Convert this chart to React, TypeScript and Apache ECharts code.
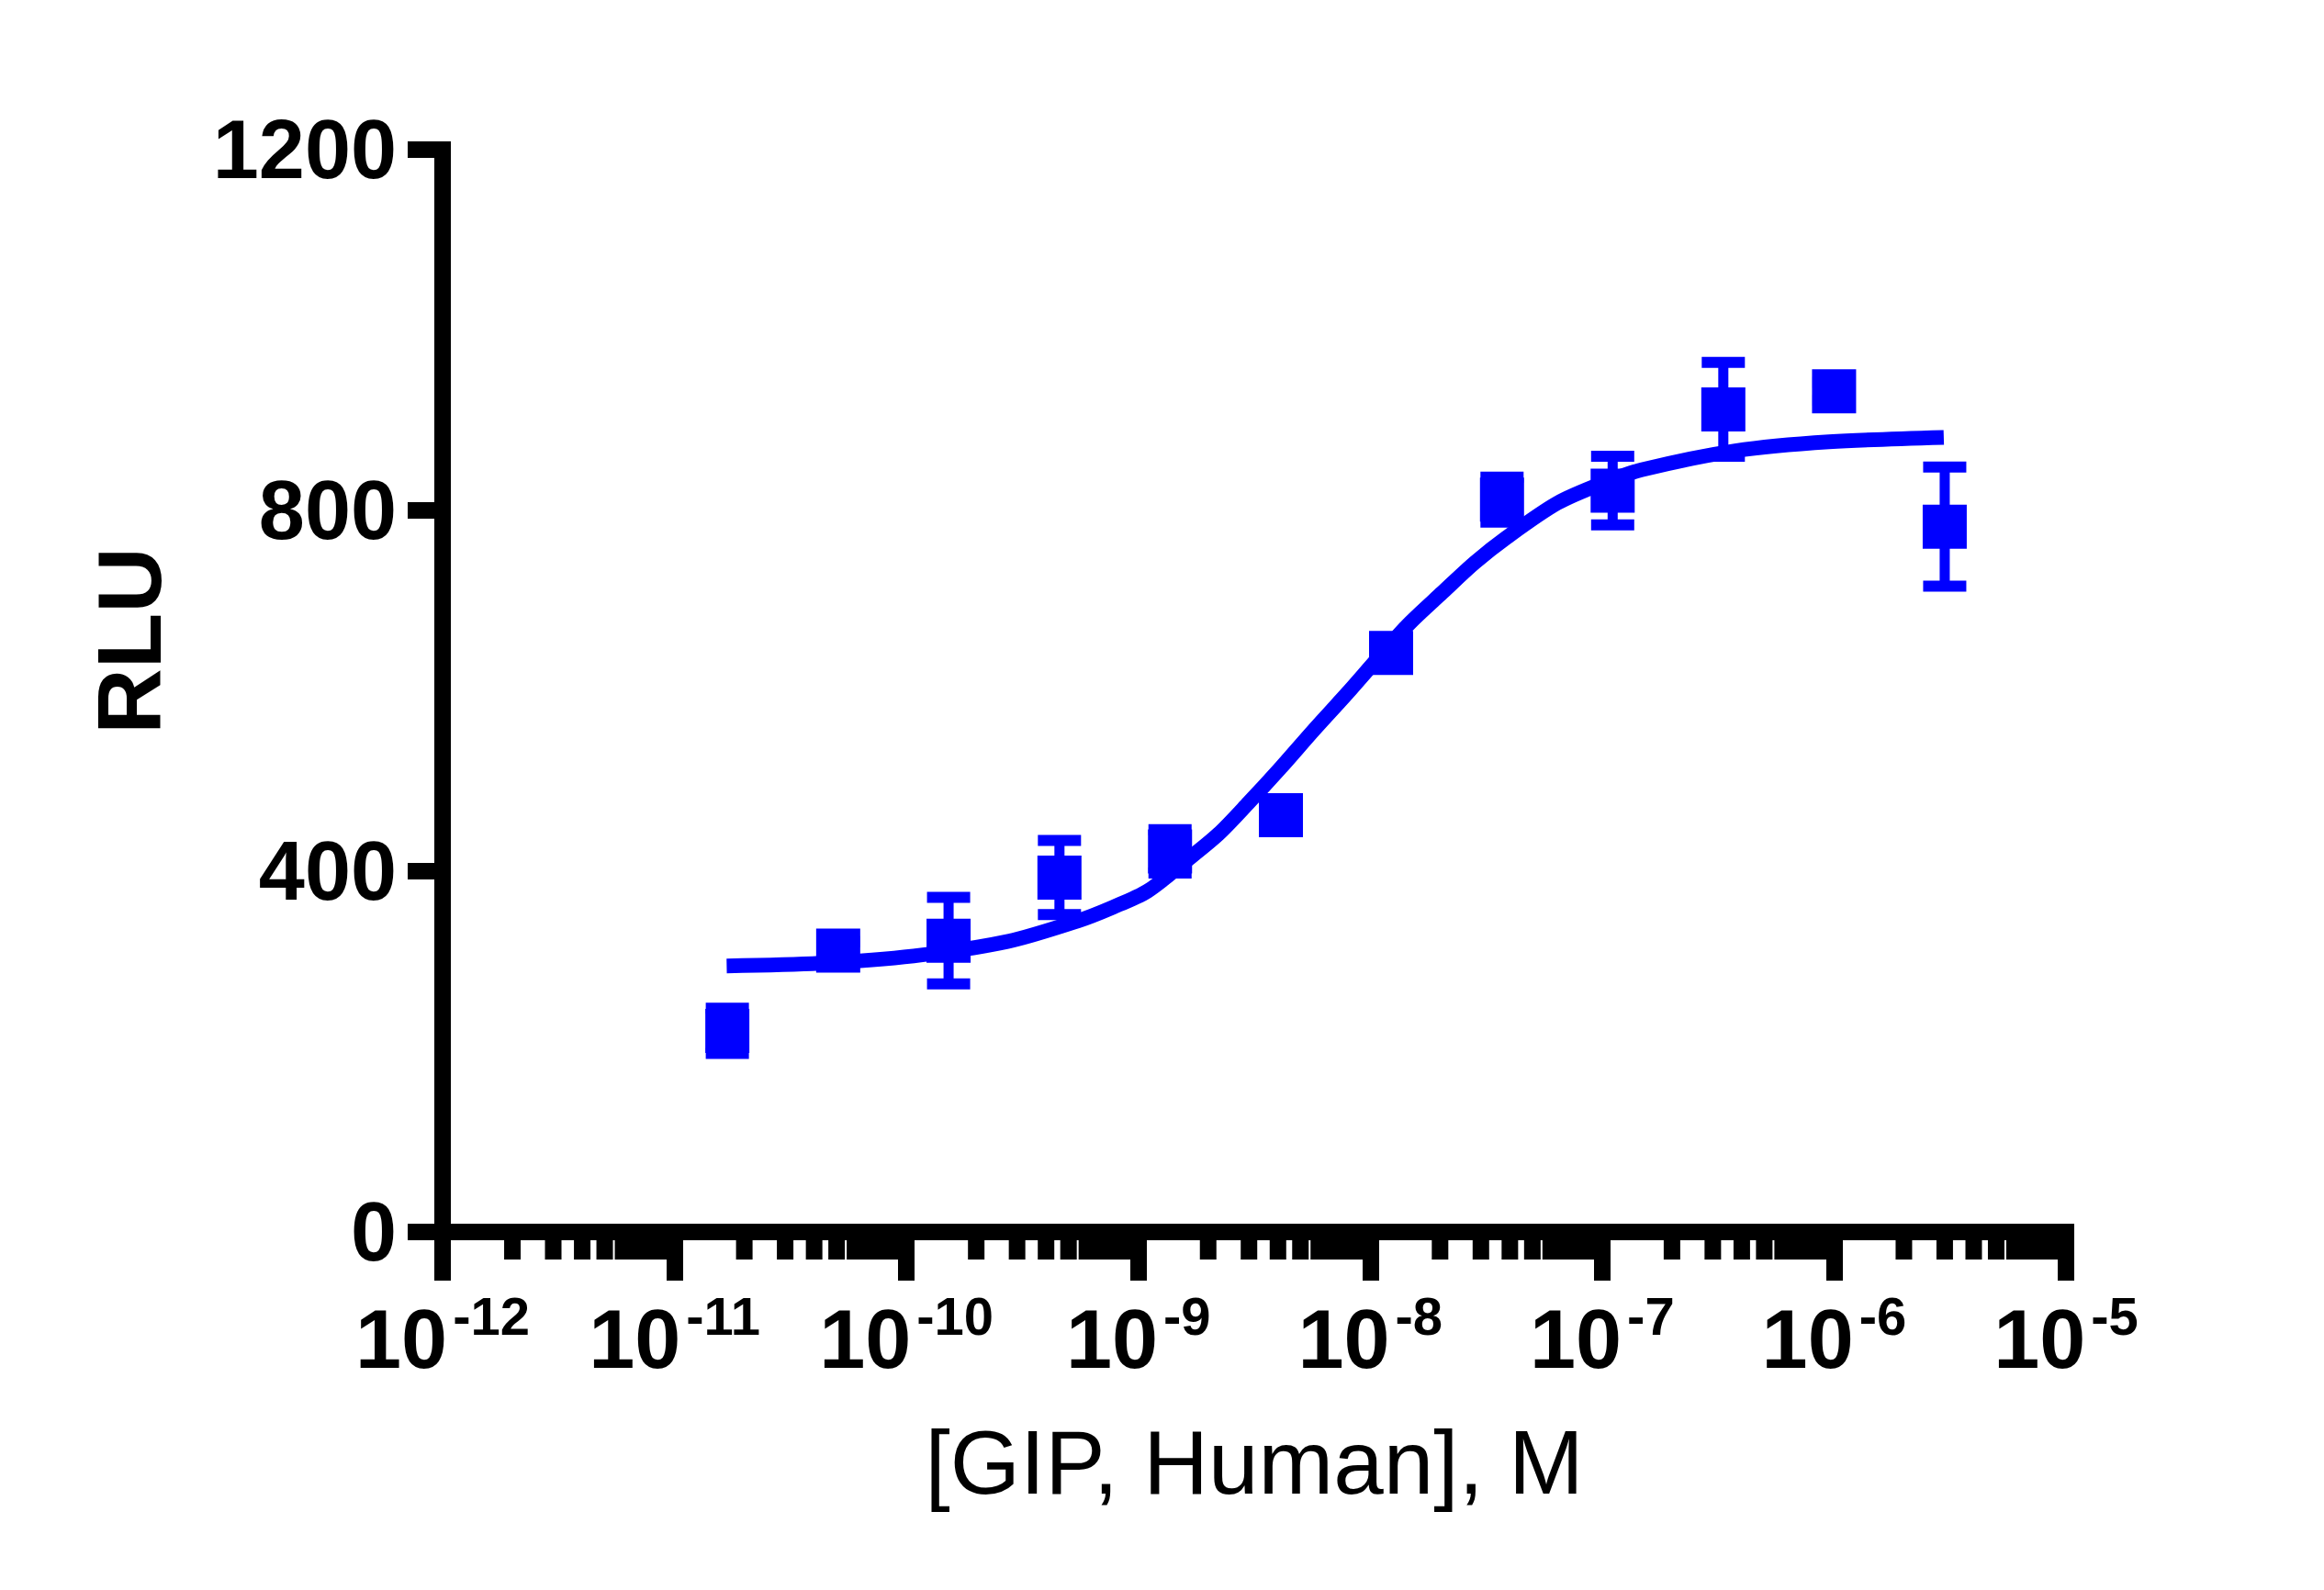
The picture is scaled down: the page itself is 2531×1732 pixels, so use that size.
import { useEffect, useRef } from 'react'
import * as echarts from 'echarts'

// 3-fold dilution series, molar
const concentrations = [1.69e-11, 5.08e-11, 1.52e-10, 4.57e-10, 1.37e-9, 4.12e-9, 1.23e-8, 3.7e-8, 1.11e-7, 3.33e-7, 1e-6, 3e-6]
const meanRLU = [223, 312, 323, 393, 422, 462, 642, 812, 822, 912, 932, 782]
const errRLU = [25, 10, 48, 41, 24, 10, 10, 25, 38, 52, 10, 66]

// fitted curve (log10 M, RLU)
const curveLogConc = [-10.775, -10.373, -9.969, -9.565, -9.26, -9.11, -8.96, -8.801, -8.655, -8.524, -8.385, -8.245, -8.1, -7.967, -7.83, -7.689, -7.55, -7.412, -7.194, -7.0, -6.83, -6.426, -6.022, -5.527]
const curveRLU = [295, 298, 306, 322, 345, 360, 378, 410, 441, 476, 515, 556, 597, 636, 675, 709, 742, 770, 808, 830, 845, 866, 876, 881]

const xDecades = [-12, -5]
const minorMultipliers = [2, 3, 4, 5, 6, 7, 8, 9]
const yTicks = [0, 400, 800, 1200]

const BLUE = '#0000ff'
const FONT = 'Liberation Sans, Arial, sans-serif'

export default function App() {
  const chartRef = useRef<HTMLDivElement>(null)

  useEffect(() => {
    document.body.style.margin = '0'
    if (!chartRef.current) return
    const chart = echarts.init(chartRef.current, undefined, { renderer: 'svg' })

    const points = concentrations.map((c, i) => [Math.log10(c), meanRLU[i]])
    const errData = concentrations.map((c, i) => [Math.log10(c), meanRLU[i], errRLU[i]])
    const curve = curveLogConc.map((x, i) => [x, curveRLU[i]])

    const minorTicks: number[][] = []
    for (let d = xDecades[0]; d < xDecades[1]; d++) {
      minorMultipliers.forEach((m) => minorTicks.push([d + Math.log10(m), 0]))
    }

    const option: any = {
      animation: false,
      grid: { left: 482, right: 281, top: 163, bottom: 390, outerBoundsMode: 'none' },
      xAxis: {
        type: 'value',
        min: xDecades[0],
        max: xDecades[1],
        interval: 1,
        axisLine: { lineStyle: { color: '#000', width: 18, cap: 'square' } },
        axisTick: { length: 53, lineStyle: { color: '#000', width: 18 } },
        splitLine: { show: false },
        axisLabel: {
          margin: 62,
          formatter: (v: number) => `{b|10}{e|${v}}`,
          rich: {
            b: { fontFamily: FONT, fontWeight: 'bold', fontSize: 90, color: '#000', verticalAlign: 'top', padding: [10, 0, 0, 0] },
            e: { fontFamily: FONT, fontWeight: 'bold', fontSize: 58, color: '#000', verticalAlign: 'top', padding: [0, 0, 0, 6] }
          }
        }
      },
      yAxis: {
        type: 'value',
        min: yTicks[0],
        max: yTicks[yTicks.length - 1],
        interval: 400,
        axisLine: { show: true, lineStyle: { color: '#000', width: 18, cap: 'square' } },
        axisTick: { show: true, length: 38, lineStyle: { color: '#000', width: 18 } },
        splitLine: { show: false },
        axisLabel: {
          margin: 50,
          formatter: (v: number) => String(v),
          fontFamily: FONT,
          fontWeight: 'bold',
          fontSize: 90,
          color: '#000'
        }
      },
      graphic: [
        {
          type: 'text',
          x: 140,
          y: 698,
          rotation: Math.PI / 2,
          style: { text: 'RLU', fontFamily: FONT, fontWeight: 'bold', fontSize: 99, fill: '#000', align: 'center', verticalAlign: 'middle' }
        },
        {
          type: 'text',
          x: 1366,
          y: 1593,
          style: { text: '[GIP, Human], M', fontFamily: FONT, fontSize: 98, fill: '#000', align: 'center', verticalAlign: 'middle' }
        }
      ],
      series: [
        {
          type: 'custom',
          name: 'minorTicks',
          clip: false,
          silent: true,
          z: 5,
          data: minorTicks,
          encode: { x: 0, y: 1 },
          renderItem: (params: any, api: any) => {
            const p = api.coord([api.value(0), 0])
            return {
              type: 'rect',
              shape: { x: p[0] - 9, y: p[1], width: 18, height: 30 },
              style: { fill: '#000' }
            }
          }
        },
        {
          type: 'line',
          data: curve,
          smooth: 0.3,
          showSymbol: false,
          lineStyle: { color: BLUE, width: 16, cap: 'butt', join: 'round' },
          z: 2
        },
        {
          type: 'custom',
          name: 'errors',
          clip: false,
          z: 3,
          data: errData,
          encode: { x: 0, y: 1 },
          renderItem: (params: any, api: any) => {
            const x = api.value(0)
            const m = api.value(1)
            const e = api.value(2)
            const top = api.coord([x, m + e])
            const bot = api.coord([x, m - e])
            return {
              type: 'group',
              children: [
                { type: 'rect', shape: { x: top[0] - 5.5, y: top[1], width: 11, height: bot[1] - top[1] }, style: { fill: BLUE } },
                { type: 'rect', shape: { x: top[0] - 23.5, y: top[1] - 6, width: 47, height: 12 }, style: { fill: BLUE } },
                { type: 'rect', shape: { x: bot[0] - 23.5, y: bot[1] - 6, width: 47, height: 12 }, style: { fill: BLUE } }
              ]
            }
          }
        },
        {
          type: 'scatter',
          data: points,
          symbol: 'rect',
          symbolSize: 48,
          itemStyle: { color: BLUE, opacity: 1 },
          z: 4
        }
      ]
    }

    chart.setOption(option)
    return () => chart.dispose()
  }, [])

  return <div ref={chartRef} style={{ width: 2531, height: 1732 }} />
}
